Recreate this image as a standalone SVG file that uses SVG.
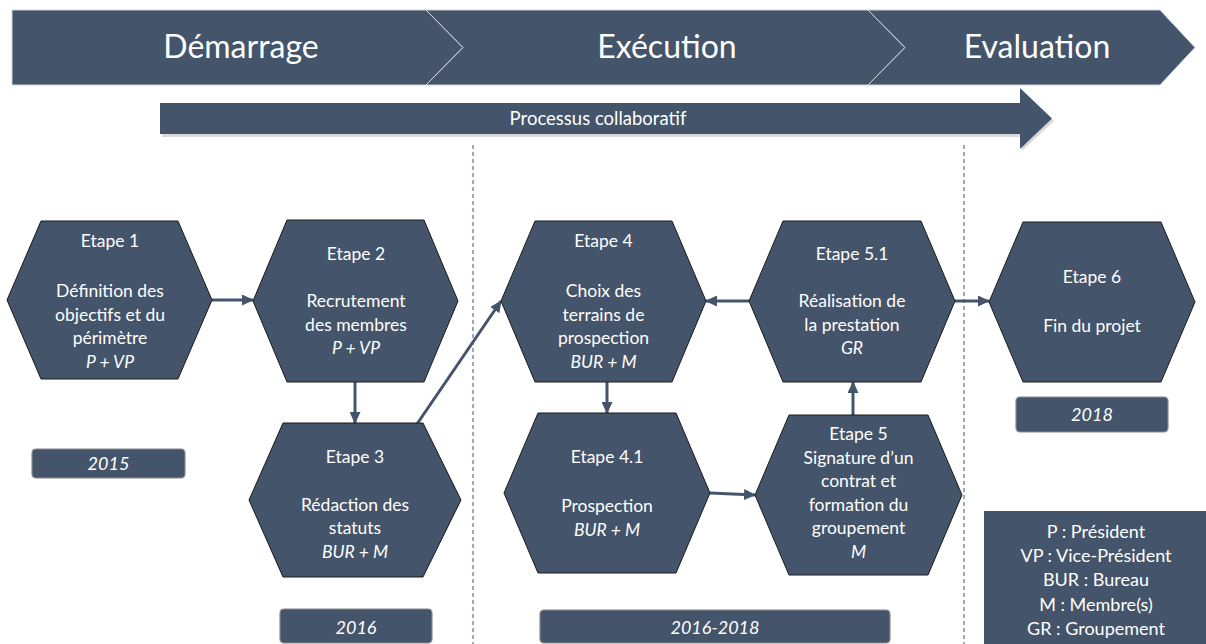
<svg xmlns="http://www.w3.org/2000/svg" width="1206" height="644" viewBox="0 0 1206 644">
<defs>
<style>
.hex{fill:#44546A;stroke:#1a1a1a;stroke-width:1}
.ban{fill:#44546A;stroke:#d0d4da;stroke-width:1}
.box{fill:#44546A;stroke:#8a8a8a;stroke-width:1.2}
.t{font-family:Lato,"Open Sans",sans-serif;font-size:17.5px;fill:#ffffff;text-anchor:middle}
.lg{font-size:18px}
.yr{font-size:18px}
.i{font-style:italic}
.big{font-family:Lato,"Open Sans",sans-serif;font-size:32px;fill:#ffffff;text-anchor:middle}
.dash{stroke:#44546A;stroke-width:1;stroke-dasharray:4 3;fill:none}
.con{stroke:#44546A;stroke-width:3;fill:none;marker-end:url(#ah)}
</style>
<marker id="ah" markerUnits="userSpaceOnUse" markerWidth="12" markerHeight="11" refX="11" refY="5.5" orient="auto">
<path d="M0,0 L12,5.5 L0,11 z" fill="#44546A"/>
</marker>
</defs>
<rect width="1206" height="644" fill="#ffffff"/>

<g id="banner">
<polygon class="ban" points="12,10 426,10 463,47.5 426,85 12,85"/>
<polygon class="ban" points="426,10 868,10 905,47.5 868,85 426,85 463,47.5"/>
<polygon class="ban" points="868,10 1160,10 1195,47.5 1160,85 868,85 905,47.5"/>
<text class="big" x="241" y="58">Démarrage</text>
<text class="big" x="667" y="58">Exécution</text>
<text class="big" x="1037" y="58">Evaluation</text>
</g>

<g id="process">
<polygon points="162,106 1022,106 1022,91 1054,121 1022,151 1022,137 162,137" fill="#000" opacity="0.15"/>
<polygon points="160,103 1020,103 1020,88 1052,118.5 1020,149 1020,134 160,134" fill="#44546A"/>
<text class="t" x="598" y="125" style="font-size:18.5px">Processus collaboratif</text>
</g>

<g id="dividers">
<line class="dash" x1="473" y1="145" x2="473" y2="644"/>
<line class="dash" x1="964" y1="145" x2="964" y2="644"/>
</g>

<g id="connectors">
<line class="con" x1="212" y1="300" x2="253" y2="300"/>
<line class="con" x1="355" y1="382" x2="355" y2="423"/>
<line class="con" x1="417" y1="424" x2="501" y2="301"/>
<line class="con" x1="607" y1="382" x2="607" y2="413"/>
<line class="con" x1="710" y1="493" x2="755" y2="495"/>
<line class="con" x1="853" y1="415" x2="853" y2="382"/>
<line class="con" x1="749" y1="301" x2="706" y2="301"/>
<line class="con" x1="955" y1="301" x2="989" y2="301"/>
</g>

<g id="e1">
<polygon class="hex" points="7,300 41,221 178,221 212,300 178,379 41,379"/>
<text class="t" x="110" y="247">Etape 1</text>
<text class="t" x="110" y="297">Définition des</text>
<text class="t" x="110" y="320.5">objectifs et du</text>
<text class="t" x="110" y="344">périmètre</text>
<text class="t i" x="110" y="367.5">P + VP</text>
</g>

<g id="e2">
<polygon class="hex" points="253,301 287,220 424,220 458,301 424,382 287,382"/>
<text class="t" x="356" y="260">Etape 2</text>
<text class="t" x="356" y="307">Recrutement</text>
<text class="t" x="356" y="330.5">des membres</text>
<text class="t i" x="356" y="354">P + VP</text>
</g>

<g id="e3">
<polygon class="hex" points="249,500 283,423 423,423 461,500 423,577 283,577"/>
<text class="t" x="355" y="463">Etape 3</text>
<text class="t" x="355" y="510.5">Rédaction des</text>
<text class="t" x="355" y="534">statuts</text>
<text class="t i" x="355" y="557.5">BUR + M</text>
</g>

<g id="e4">
<polygon class="hex" points="501,301 535,221 672,221 706,301 672,382 535,382"/>
<text class="t" x="603.5" y="247">Etape 4</text>
<text class="t" x="603.5" y="297">Choix des</text>
<text class="t" x="603.5" y="320.5">terrains de</text>
<text class="t" x="603.5" y="344">prospection</text>
<text class="t i" x="603.5" y="367.5">BUR + M</text>
</g>

<g id="e41">
<polygon class="hex" points="504,493 538,413 676,413 710,493 676,573 538,573"/>
<text class="t" x="607" y="463">Etape 4.1</text>
<text class="t" x="607" y="512">Prospection</text>
<text class="t i" x="607" y="535.5">BUR + M</text>
</g>

<g id="e51">
<polygon class="hex" points="749,301 783,221 921,221 955,301 921,382 783,382"/>
<text class="t" x="852" y="260">Etape 5.1</text>
<text class="t" x="852" y="307">Réalisation de</text>
<text class="t" x="852" y="330.5">la prestation</text>
<text class="t i" x="852" y="354">GR</text>
</g>

<g id="e5">
<polygon class="hex" points="755,495 789,415 928,415 962,495 928,575 789,575"/>
<text class="t" x="858.5" y="440">Etape 5</text>
<text class="t" x="858.5" y="463.5">Signature d’un</text>
<text class="t" x="858.5" y="487">contrat et</text>
<text class="t" x="858.5" y="510.5">formation du</text>
<text class="t" x="858.5" y="534">groupement</text>
<text class="t i" x="858.5" y="557.5">M</text>
</g>

<g id="e6">
<polygon class="hex" points="989,302 1023,222 1161,222 1195,302 1161,382 1023,382"/>
<text class="t" x="1092" y="283">Etape 6</text>
<text class="t" x="1092" y="332">Fin du projet</text>
</g>

<g id="y2015">
<rect class="box" x="32" y="449" width="153" height="29" rx="4"/>
<text class="t i yr" x="108.5" y="470">2015</text>
</g>
<g id="y2016">
<rect class="box" x="280" y="609" width="152" height="34" rx="4"/>
<text class="t i yr" x="356" y="634">2016</text>
</g>
<g id="y20162018">
<rect class="box" x="540" y="610" width="350" height="33" rx="4"/>
<text class="t i yr" x="715" y="634">2016-2018</text>
</g>
<g id="y2018">
<rect class="box" x="1016" y="397" width="152" height="35" rx="4"/>
<text class="t i yr" x="1092" y="421">2018</text>
</g>

<g id="legend">
<rect x="984" y="511" width="222" height="133" fill="#44546A"/>
<text class="t lg" x="1096" y="538">P : Président</text>
<text class="t lg" x="1096" y="562">VP : Vice-Président</text>
<text class="t lg" x="1096" y="586">BUR : Bureau</text>
<text class="t lg" x="1096" y="611">M : Membre(s)</text>
<text class="t lg" x="1096" y="635">GR : Groupement</text>
</g>
</svg>
